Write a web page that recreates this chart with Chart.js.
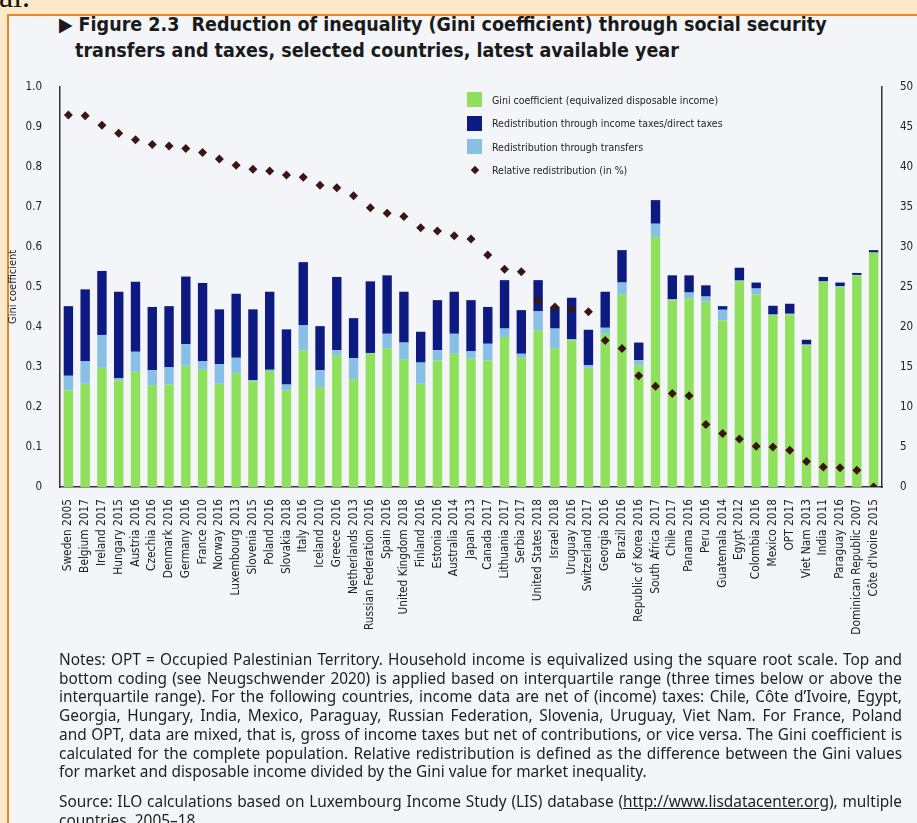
<!DOCTYPE html>
<html>
<head>
<meta charset="utf-8">
<script src="https://cdn.jsdelivr.net/npm/chart.js@4.4.1/dist/chart.umd.min.js"></script>
<style>
html, body { margin: 0; padding: 0; width: 917px; height: 823px; overflow: hidden; background: #fde9c9; }
#al { position: absolute; left: -1px; top: -22px; font: 32px "Liberation Serif", serif; color: #111; }
#box { position: absolute; left: 7px; top: 14px; width: 950px; height: 900px; background: #f3f5f9;
       border-left: 2px solid #ec8426; border-top: 2px solid #ec8426; }
#title { position: absolute; left: 59px; top: 12px; width: 858px; font-family: "DejaVu Sans Condensed", "DejaVu Sans", sans-serif;
         font-stretch: condensed; font-weight: bold; font-size: 19.5px; line-height: 26px; color: #1a1a1a; white-space: nowrap; }
#title .l2 { padding-left: 16px; }
#wrap { position: absolute; left: 0; top: 70px; width: 940px; height: 580px; }
#legend { position: absolute; left: 467px; top: 88px; font-family: "DejaVu Sans Condensed", "DejaVu Sans", sans-serif;
          font-stretch: condensed; font-size: 10.5px; color: #222; }
#legend .row { height: 23.5px; display: flex; align-items: center; }
#legend .sw { width: 15px; height: 15px; margin-right: 10px; }
#legend .dia { width: 15px; height: 15px; margin-right: 10px; display: flex; align-items: center; justify-content: center; }
#legend .dia span { width: 6px; height: 6px; background: #3b1512; transform: rotate(45deg); }
#notes { position: absolute; left: 59px; top: 651px; width: 843px; font-family: "Noto Sans", "Open Sans", sans-serif;
         font-size: 15px; line-height: 18.7px; color: #1e1e1e; }
#notes div { text-align: justify; text-align-last: justify; white-space: nowrap; }
#notes div.end { text-align-last: left; }
#notes u { text-decoration: underline; }
</style>
</head>
<body>
<div id="al">al.</div>
<div id="box"></div>
<div id="title">▶ Figure 2.3&nbsp; Reduction of inequality (Gini coefficient) through social security<br><span class="l2">transfers and taxes, selected countries, latest available year</span></div>
<div id="wrap"><canvas id="chart"></canvas></div>
<div id="legend"></div>
<div id="notes"></div>
<script>
const countries = ['Sweden 2005', 'Belgium 2017', 'Ireland 2017', 'Hungary 2015', 'Austria 2016', 'Czechia 2016',
  'Denmark 2016', 'Germany 2016', 'France 2010', 'Norway 2016', 'Luxembourg 2013', 'Slovenia 2015', 'Poland 2016',
  'Slovakia 2018', 'Italy 2016', 'Iceland 2010', 'Greece 2016', 'Netherlands 2013', 'Russian Federation 2016',
  'Spain 2016', 'United Kingdom 2018', 'Finland 2016', 'Estonia 2016', 'Australia 2014', 'Japan 2013', 'Canada 2017',
  'Lithuania 2017', 'Serbia 2017', 'United States 2018', 'Israel 2018', 'Uruguay 2016', 'Switzerland 2017',
  'Georgia 2016', 'Brazil 2016', 'Republic of Korea 2016', 'South Africa 2017', 'Chile 2017', 'Panama 2016',
  'Peru 2016', 'Guatemala 2014', 'Egypt 2012', 'Colombia 2016', 'Mexico 2018', 'OPT 2017', 'Viet Nam 2013',
  'India 2011', 'Paraguay 2016', 'Dominican Republic 2007', "Côte d'Ivoire 2015"] ;

// Gini of disposable income (green part)
const gini = [0.242, 0.258, 0.298, 0.267, 0.288, 0.254, 0.256, 0.303, 0.293, 0.258, 0.285, 0.264, 0.290,
  0.242, 0.342, 0.250, 0.329, 0.269, 0.333, 0.346, 0.319, 0.258, 0.317, 0.333, 0.321, 0.317, 0.375, 0.323,
  0.392, 0.346, 0.367, 0.298, 0.383, 0.481, 0.304, 0.625, 0.467, 0.471, 0.463, 0.417, 0.514, 0.481, 0.429,
  0.431, 0.354, 0.513, 0.500, 0.529, 0.586] ;
// redistribution through transfers (light blue part)
const transfers = [0.036, 0.056, 0.082, 0.005, 0.050, 0.038, 0.043, 0.054, 0.021, 0.049, 0.038, 0.003, 0.003,
  0.014, 0.062, 0.042, 0.013, 0.053, 0.002, 0.037, 0.042, 0.053, 0.025, 0.050, 0.018, 0.041, 0.021, 0.010,
  0.047, 0.050, 0.002, 0.007, 0.015, 0.030, 0.013, 0.033, 0.002, 0.015, 0.013, 0.026, 0.002, 0.015, 0.002,
  0.002, 0.002, 0.001, 0.002, 0.001, 0.000] ;
// redistribution through income taxes / direct taxes (dark blue part)
const taxes = [0.174, 0.180, 0.160, 0.216, 0.175, 0.158, 0.153, 0.169, 0.196, 0.137, 0.160, 0.177, 0.195,
  0.138, 0.158, 0.110, 0.183, 0.100, 0.179, 0.146, 0.127, 0.077, 0.125, 0.105, 0.128, 0.092, 0.121, 0.109,
  0.078, 0.054, 0.104, 0.088, 0.090, 0.081, 0.044, 0.059, 0.060, 0.043, 0.028, 0.009, 0.032, 0.015, 0.022,
  0.025, 0.012, 0.011, 0.009, 0.005, 0.006] ;
// relative redistribution in %
const relative = [46.5, 46.4, 45.2, 44.2, 43.4, 42.8, 42.6, 42.3, 41.8, 41.0, 40.2, 39.7, 39.5, 39.0, 38.7,
  37.7, 37.4, 36.4, 34.9, 34.2, 33.8, 32.4, 32.0, 31.4, 31.0, 29.0, 27.2, 26.9, 23.3, 22.5, 22.2, 21.9, 18.3,
  17.3, 13.9, 12.6, 11.7, 11.4, 7.8, 6.7, 6.0, 5.1, 5.0, 4.6, 3.2, 2.5, 2.4, 2.1, 0.0] ;

const green = '#8fe05c' ;
const lightBlue = '#88bfe6' ;
const darkBlue = '#0c1a82' ;
const marker = '#3b1512' ;
const font = '"DejaVu Sans Condensed", "DejaVu Sans", sans-serif' ;

const legendItems = [
  ['Gini coefficient (equivalized disposable income)', green],
  ['Redistribution through income taxes/direct taxes', darkBlue],
  ['Redistribution through transfers', lightBlue],
  ['Relative redistribution (in %)', null]
] ;

const notes = [
  'Notes: OPT = Occupied Palestinian Territory. Household income is equivalized using the square root scale. Top and',
  'bottom coding (see Neugschwender 2020) is applied based on interquartile range (three times below or above the',
  'interquartile range). For the following countries, income data are net of (income) taxes: Chile, Côte d’Ivoire, Egypt,',
  'Georgia, Hungary, India, Mexico, Paraguay, Russian Federation, Slovenia, Uruguay, Viet Nam. For France, Poland',
  'and OPT, data are mixed, that is, gross of income taxes but net of contributions, or vice versa. The Gini coefficient is',
  'calculated for the complete population. Relative redistribution is defined as the difference between the Gini values',
  'for market and disposable income divided by the Gini value for market inequality.'
] ;

// legend
const legendElement = document.getElementById('legend') ;
legendItems.forEach(([text, color]) => {
  const row = document.createElement('div') ;
  row.className = 'row' ;
  row.innerHTML = color ? `<div class="sw" style="background:${color}"></div>` : '<div class="dia"><span></span></div>' ;
  row.appendChild(document.createTextNode(text)) ;
  legendElement.appendChild(row) ;
}) ;

// notes
const notesElement = document.getElementById('notes') ;
notes.forEach((line, i) => {
  const d = document.createElement('div') ;
  d.textContent = line ;
  if (i == notes.length - 1) d.className = 'end' ;
  notesElement.appendChild(d) ;
}) ;
const gap = document.createElement('div') ;
gap.style.height = '11px' ;
notesElement.appendChild(gap) ;
const src = document.createElement('div') ;
src.innerHTML = 'Source: ILO calculations based on Luxembourg Income Study (LIS) database (<u>http://www.lisdatacenter.org</u>), multiple' ;
notesElement.appendChild(src) ;
const src2 = document.createElement('div') ;
src2.className = 'end' ;
src2.textContent = 'countries, 2005–18.' ;
notesElement.appendChild(src2) ;

// grow the notes font until the widest line just fits the box
const measure = document.createElement('span') ;
measure.style.cssText = 'position:absolute;visibility:hidden;white-space:nowrap' ;
notesElement.appendChild(measure) ;
function widest() {
  let w = 0 ;
  notes.concat([src.textContent]).forEach((t) => { measure.textContent = t ; w = Math.max(w, measure.getBoundingClientRect().width) }) ;
  return w ;
}
let size = 17 ;
notesElement.style.fontSize = size + 'px' ;
while (widest() > 836 && size > 12) {
  size -= 0.1 ;
  notesElement.style.fontSize = size + 'px' ;
}
measure.remove() ;

Chart.defaults.font.family = font ;
Chart.defaults.color = '#222' ;

new Chart(document.getElementById('chart'), {
  data: {
    labels: countries,
    datasets: [{
      type: 'line',
      data: relative,
      yAxisID: 'y1',
      showLine: false,
      pointStyle: 'rectRot',
      pointRadius: 4.5,
      pointBackgroundColor: marker,
      pointBorderColor: marker,
      borderWidth: 0,
      order: 0
    }, {
      type: 'bar',
      data: gini,
      backgroundColor: green,
      stack: 's',
      barPercentage: 0.56,
      categoryPercentage: 1,
      order: 1
    }, {
      type: 'bar',
      data: transfers,
      backgroundColor: lightBlue,
      stack: 's',
      barPercentage: 0.56,
      categoryPercentage: 1,
      order: 1
    }, {
      type: 'bar',
      data: taxes,
      backgroundColor: darkBlue,
      stack: 's',
      barPercentage: 0.56,
      categoryPercentage: 1,
      order: 1
    }]
  },
  options: {
    responsive: true,
    maintainAspectRatio: false,
    animation: false,
    layout: { padding: { top: 16, left: 0, right: 0, bottom: 0 } },
    plugins: { legend: { display: false }, tooltip: { enabled: false } },
    scales: {
      x: {
        stacked: true,
        offset: true,
        grid: { display: false },
        border: { color: '#333', width: 1.5 },
        ticks: { autoSkip: false, maxRotation: 90, minRotation: 90, padding: 4, font: { size: 11.8 } },
        afterFit: (scale) => { scale.height = 163 }
      },
      y: {
        stacked: true,
        min: 0,
        max: 1,
        grid: { display: false },
        border: { color: '#333', width: 1.5 },
        ticks: { stepSize: 0.1, padding: 10, font: { size: 11.5 },
                 callback: (v) => v == 0 ? '0' : v.toFixed(1) },
        title: { display: true, text: 'Gini coefficient', font: { size: 11 }, padding: { top: 7, bottom: 0 } },
        afterFit: (scale) => { scale.width = 60 }
      },
      y1: {
        position: 'right',
        min: 0,
        max: 50,
        grid: { display: false },
        border: { color: '#333', width: 1.5 },
        ticks: { stepSize: 5, padding: 10, font: { size: 11.5 } },
        title: { display: true, text: 'Relative redistribution (in %)', font: { size: 11 }, padding: { top: 0, bottom: 18 } },
        afterFit: (scale) => { scale.width = 58 }
      }
    }
  }
}) ;
</script>
</body>
</html>
